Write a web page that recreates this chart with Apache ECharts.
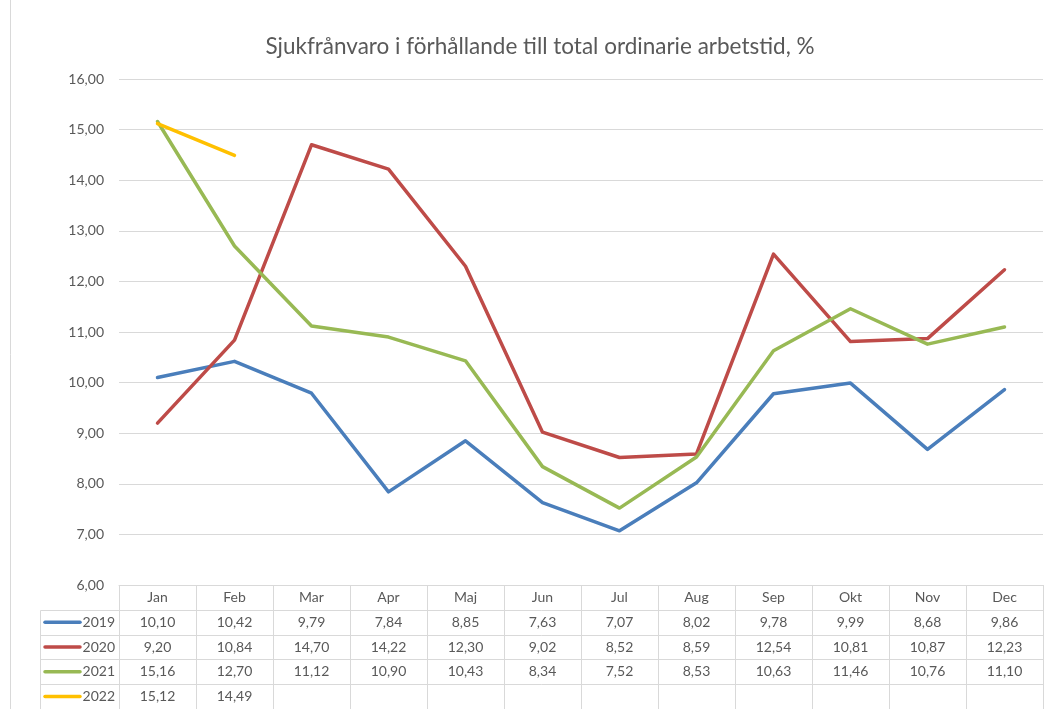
<!DOCTYPE html>
<html><head><meta charset="utf-8">
<script src="https://cdn.jsdelivr.net/npm/echarts@6/dist/echarts.min.js"></script>
<style>html,body{margin:0;padding:0;background:#fff}#c{width:1047px;height:709px}</style>
</head><body><div id="c"></div>
<script>
const categories = ['Jan','Feb','Mar','Apr','Maj','Jun','Jul','Aug','Sep','Okt','Nov','Dec'];
const seriesNames = ['2019','2020','2021','2022'];
const s2019 = [10.10,10.42,9.79,7.84,8.85,7.63,7.07,8.02,9.78,9.99,8.68,9.86];
const s2020 = [9.20,10.84,14.70,14.22,12.30,9.02,8.52,8.59,12.54,10.81,10.87,12.23];
const s2021 = [15.16,12.70,11.12,10.90,10.43,8.34,7.52,8.53,10.63,11.46,10.76,11.10];
const s2022 = [15.12,14.49];
const colors = ['#4a7ebb','#be4b48','#98b954','#ffc000'];
const title = 'Sjukfrånvaro i förhållande till total ordinarie arbetstid, %';

const allSeries = [s2019,s2020,s2021,s2022];
const FONT = 'Lato, "Open Sans", sans-serif';
const TXT = '#595959';
const LINE = '#d9d9d9';
const FS = 14;
const fmt = v => v.toFixed(2).replace('.', ',');

const chart = echarts.init(document.getElementById('c'), null, {renderer:'canvas'});
const gridL = 119, gridR = 4, gridT = 79, gridB = 124;
chart.setOption({
  animation:false,
  backgroundColor:'#fff',
  textStyle:{fontFamily:FONT},
  title:{text:title,left:535,textAlign:'center',top:30,textStyle:{fontFamily:FONT,fontSize:22.5,fontWeight:'normal',color:TXT}},
  grid:{left:gridL,right:gridR,top:gridT,bottom:gridB,containLabel:false},
  xAxis:{type:'category',data:categories,boundaryGap:true,
    axisLine:{show:true,lineStyle:{color:LINE,width:1}},
    axisTick:{show:true,length:124,lineStyle:{color:LINE,width:1}},
    axisLabel:{color:TXT,fontSize:FS,fontFamily:FONT,margin:5,interval:0}},
  yAxis:{type:'value',min:6,max:16,interval:1,
    axisLine:{show:false},axisTick:{show:false},
    splitLine:{lineStyle:{color:LINE,width:1}},
    axisLabel:{color:TXT,fontSize:FS,fontFamily:FONT,margin:15,formatter:v=>fmt(v)}},
  series:allSeries.map((d,i)=>({name:seriesNames[i],type:'line',data:d,showSymbol:false,symbol:'none',
    lineStyle:{color:colors[i],width:3.5,cap:'round',join:'round'},itemStyle:{color:colors[i]},z:2+i}))
});

// data table beneath the plot
const top0 = chart.convertToPixel({yAxisIndex:0}, 6);
const rowH = 24.8;
const tableLeft = 40.5, tableRight = 1047 - gridR;
const g = [];
g.push({type:'line',shape:{x1:10.5,y1:0,x2:10.5,y2:709},style:{stroke:LINE,lineWidth:1},silent:true});
for (let r=1;r<=5;r++){
  const y = Math.round(top0 + rowH*r) + 0.5;
  g.push({type:'line',shape:{x1:tableLeft,y1:y,x2:tableRight,y2:y},style:{stroke:LINE,lineWidth:1},silent:true});
}
g.push({type:'line',shape:{x1:tableLeft,y1:Math.round(top0+rowH)+0.5,x2:tableLeft,y2:709},style:{stroke:LINE,lineWidth:1},silent:true});
allSeries.forEach((d,r)=>{
  const cy = top0 + rowH*(r+1) + rowH/2;
  g.push({type:'line',shape:{x1:45,y1:cy,x2:80,y2:cy},style:{stroke:colors[r],lineWidth:3.5,lineCap:'round'},silent:true});
  g.push({type:'text',style:{text:seriesNames[r],x:115,y:cy,textAlign:'right',textVerticalAlign:'middle',fill:TXT,font:FS+'px '+FONT},silent:true});
  d.forEach((v,i)=>{
    const cx = chart.convertToPixel({xAxisIndex:0}, i);
    g.push({type:'text',style:{text:fmt(v),x:cx,y:cy,textAlign:'center',textVerticalAlign:'middle',fill:TXT,font:FS+'px '+FONT},silent:true});
  });
});
chart.setOption({graphic:{elements:g}});
</script></body></html>
